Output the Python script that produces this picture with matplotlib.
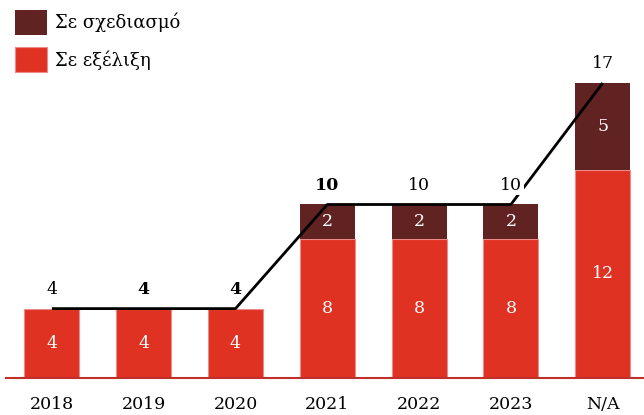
import matplotlib

matplotlib.use("Agg")
import matplotlib.pyplot as plt
from matplotlib.patches import Patch


CATEGORIES = ["2018", "2019", "2020", "2021", "2022", "2023", "N/A"]
IN_PROGRESS = [4, 4, 4, 8, 8, 8, 12]
PLANNED = [0, 0, 0, 2, 2, 2, 5]
TOTAL_BOLD = [False, True, True, True, False, False, False]
LEGEND_LABELS = ["Σε σχεδιασμό", "Σε εξέλιξη"]

RED = "#e03222"
DARK = "#612222"
FONT = ["DejaVu Serif"]


def main() -> None:
	plt.rcParams["font.family"] = FONT

	fig = plt.figure(figsize=(6.44, 4.15), dpi=100)
	ax = fig.add_axes([6 / 644, 37 / 415, 638 / 644, 347 / 415])

	x = list(range(len(CATEGORIES)))
	totals = [a + b for a, b in zip(IN_PROGRESS, PLANNED)]

	ax.bar(x, IN_PROGRESS, width=0.6, color=RED, edgecolor="#ea8c8c", linewidth=0.8, zorder=2)
	ax.bar(x, PLANNED, width=0.6, bottom=IN_PROGRESS, color=DARK, linewidth=0, zorder=2)

	for i in x:
		ax.text(i, IN_PROGRESS[i] / 2, str(IN_PROGRESS[i]), ha="center", va="center",
			color="white", fontsize=12.5, zorder=4)
		if PLANNED[i]:
			ax.text(i, IN_PROGRESS[i] + PLANNED[i] / 2, str(PLANNED[i]), ha="center",
				va="center", color="white", fontsize=12.5, zorder=4)

	# line through the totals
	ax.plot(x, totals, color="black", linewidth=2, zorder=3, solid_capstyle="butt")

	for i in x:
		box = None
		if i == 5:
			box = dict(boxstyle="square,pad=0.1", facecolor="white", edgecolor="none")
		ax.annotate(str(totals[i]), (i, totals[i]), xytext=(0, 14), textcoords="offset points",
			ha="center", va="center", fontsize=12.5, zorder=5,
			fontweight="bold" if TOTAL_BOLD[i] else "normal", bbox=box)

	ax.set_xlim(-0.5, 6.45)
	ax.set_ylim(0, 20)
	ax.set_xticks(x)
	ax.set_xticklabels(CATEGORIES, fontsize=12.5)
	ax.tick_params(axis="x", length=0, pad=13)
	ax.set_yticks([])
	for side in ["top", "right", "left"]:
		ax.spines[side].set_visible(False)
	ax.spines["bottom"].set_color("#c0302a")
	ax.spines["bottom"].set_linewidth(1.5)

	handles = [
		Patch(facecolor=DARK, edgecolor="none"),
		Patch(facecolor=RED, edgecolor="#ea8c8c", linewidth=0.8),
	]
	fig.legend(handles, LEGEND_LABELS, loc="upper left", bbox_to_anchor=(15 / 644, 1 - 10 / 415),
		frameon=False, fontsize=13, handlelength=1.75, handleheight=1.75,
		handletextpad=0.45, labelspacing=0.68, borderpad=0, borderaxespad=0)

	fig.savefig("out.png", dpi=100)
	plt.close(fig)


if __name__ == "__main__":
	main()
